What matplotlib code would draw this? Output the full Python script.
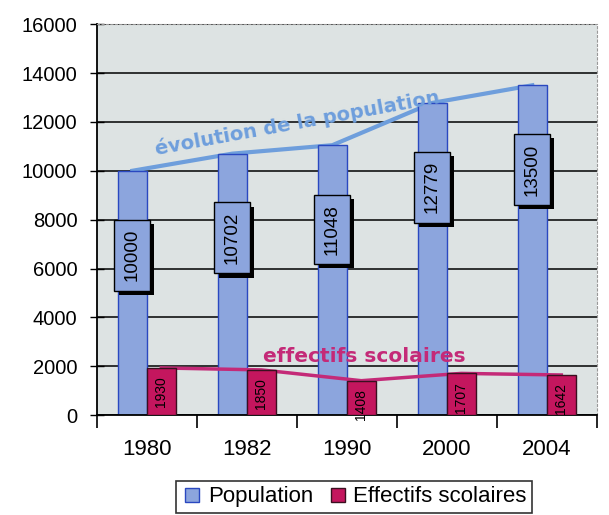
import matplotlib.pyplot as plt
import matplotlib.patheffects as pe
import numpy as np

plt.rcParams['font.family'] = ['Liberation Sans', 'DejaVu Sans']

years = ['1980', '1982', '1990', '2000', '2004']
population = [10000, 10702, 11048, 12779, 13500]
effectifs = [1930, 1850, 1408, 1707, 1642]

POP_COL = '#8ca5dd'
EFF_COL = '#c4165e'

fig = plt.figure(figsize=(6.09, 5.15), dpi=100)
ax = fig.add_axes([0.159, 0.194, 0.821, 0.759])
ax.set_facecolor('#dde3e3')

x = np.arange(len(years))
w = 0.29

ax.bar(x - w / 2, population, w, color=POP_COL, edgecolor='#2a48c0', lw=1, zorder=2)
ax.bar(x + w / 2, effectifs, w, color=EFF_COL, edgecolor='#3a1020', lw=1, zorder=4)

# courbes (derrière les barres)
ax.plot(x - w / 2, population, color='#6e9edc', lw=3, zorder=1.5)
ax.plot(x + w / 2, effectifs, color='#c42a78', lw=2.5, zorder=3)

for xi, v in zip(x, population):
    t = ax.text(xi - w / 2, v - 3450, str(v), rotation=90, ha='center', va='center',
                fontsize=13.5, zorder=6,
                bbox=dict(boxstyle='square,pad=0.5', fc=POP_COL, ec='black', lw=1))
    t.get_bbox_patch().set_path_effects([
        pe.SimplePatchShadow(offset=(3, -3), shadow_rgbFace='black', alpha=1),
        pe.Normal()])

for xi, v in zip(x, effectifs):
    ax.annotate(str(v), (xi + w / 2, v), xytext=(0, -6), textcoords='offset points',
                rotation=90, ha='center', va='top', fontsize=10, zorder=6)

ax.text(1.52, 11700, 'évolution de la population', color='#6e9edc', fontsize=14,
        family='DejaVu Sans', fontweight='bold', rotation=10.4, rotation_mode='anchor',
        ha='center', va='baseline', zorder=7)
ax.text(2.17, 2169, 'effectifs scolaires', color='#c42a78', fontsize=14.5,
        family='DejaVu Sans', fontweight='bold', ha='center', va='baseline', zorder=7)

ax.set_ylim(0, 16000)
ax.set_xlim(-0.5, 4.5)
ax.set_yticks(np.arange(0, 16001, 2000))
ax.yaxis.grid(True, color='black', lw=1.1)
ax.set_axisbelow(True)
ax.tick_params(axis='y', direction='inout', length=10, width=1, labelsize=14.5, pad=9)

ax.set_xticks(np.arange(-0.5, 4.6, 1))
ax.set_xticklabels([])
ax.set_xticks(x, minor=True)
ax.set_xticklabels(years, minor=True, fontsize=16)
ax.tick_params(axis='x', which='major', direction='out', length=9, width=1.2)
ax.tick_params(axis='x', which='minor', length=0, pad=17)

for s in ['left', 'bottom']:
    ax.spines[s].set_linewidth(1.3)
for s in ['top', 'right']:
    ax.spines[s].set_color('#999999')
    ax.spines[s].set_linestyle((0, (2, 2)))
    ax.spines[s].set_linewidth(0.8)

h1 = plt.Line2D([], [], marker='s', ls='', ms=10, mfc=POP_COL, mec='#2a48c0')
h2 = plt.Line2D([], [], marker='s', ls='', ms=10, mfc=EFF_COL, mec='#3a1020')
leg = fig.legend([h1, h2], ['Population', 'Effectifs scolaires'], loc='center',
                 bbox_to_anchor=(0.581, 0.035), ncol=2, fontsize=16, frameon=True,
                 fancybox=False, edgecolor='black', handletextpad=0.2,
                 columnspacing=0.6, handlelength=1.0, borderpad=0.25)
leg.get_frame().set_linewidth(1.2)

fig.savefig('out.png', dpi=100)
